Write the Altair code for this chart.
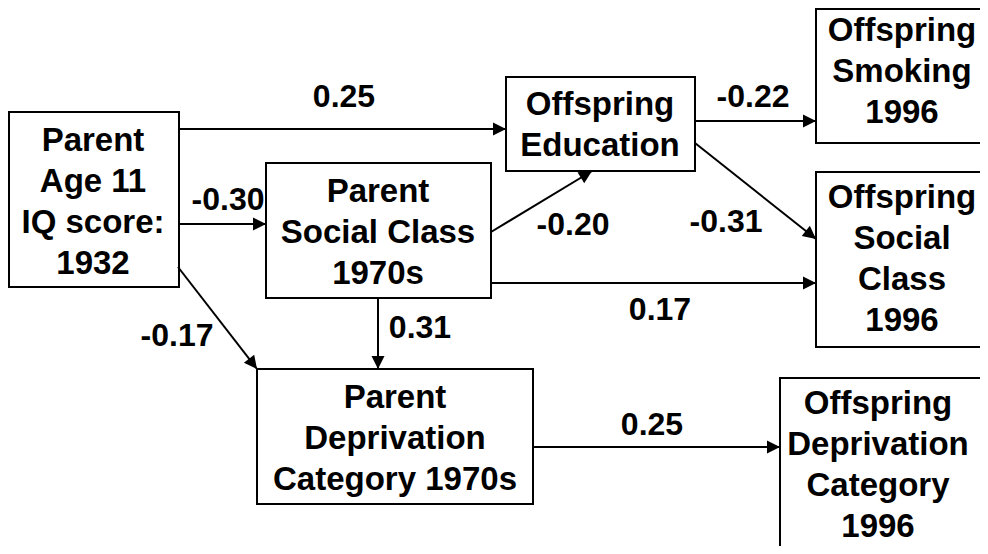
import math
import altair as alt
import pandas as pd

# ---- Boxes (diagram coordinates, in pixels of the 988x554 picture) ----
box_labels = [
    "Parent\nAge 11\nIQ score:\n1932",
    "Parent\nSocial Class\n1970s",
    "Offspring\nEducation",
    "Offspring\nSmoking\n1996",
    "Offspring\nSocial\nClass\n1996",
    "Parent\nDeprivation\nCategory 1970s",
    "Offspring\nDeprivation\nCategory\n1996",
]
box_left = [9, 266, 506, 816, 816, 257, 780]
box_right = [179, 491, 695, 995, 995, 533, 995]
box_top = [112, 163, 77, 9, 172, 369, 378]
box_bottom = [287, 298, 171, 143, 347, 504, 550]
text_x = [93, 378, 600, 902, 902, 395, 878]
text_y = [202, 233, 125, 72, 259, 439, 465]

# ---- Paths (arrows) with coefficients ----
edge_labels = ["0.25", "-0.30", "-0.17", "-0.20", "-0.22", "-0.31", "0.17", "0.31", "0.25"]
edge_x1 = [179, 179, 178, 491, 695, 695, 491, 378, 533]
edge_y1 = [129, 224, 267, 232, 121, 143, 283, 298, 447]
edge_x2 = [506, 266, 257, 592, 816, 816, 816, 378, 780]
edge_y2 = [129, 224, 369, 171, 121, 239, 283, 369, 447]
label_x = [344, 228, 177, 573, 753, 726, 660, 420, 652]
label_y = [97, 200, 336, 225, 97, 222, 310, 328, 425]

LINE_H = 41

boxes_df = pd.DataFrame({
    "label": box_labels, "x1": box_left, "x2": box_right,
    "y1": box_top, "y2": box_bottom, "tx": text_x, "ty": text_y,
})
# Vega draws the first line at y; shift so the whole block is centred
boxes_df["ty_first"] = [
    cy - (lab.count("\n")) * LINE_H / 2 for cy, lab in zip(text_y, box_labels)
]

edges_df = pd.DataFrame({
    "coef": edge_labels, "x1": edge_x1, "y1": edge_y1,
    "x2": edge_x2, "y2": edge_y2, "lx": label_x, "ly": label_y,
})
edges_df["angle"] = [
    math.degrees(math.atan2(b - a, d - c)) % 360
    for a, b, c, d in zip(edges_df.y1, edges_df.y2, edges_df.x1, edges_df.x2)
]

W, H = 972, 538
xs = alt.Scale(domain=[8, 8 + W])
ys = alt.Scale(domain=[8, 8 + H], reverse=True)
FONT = "Liberation Sans"

rects = alt.Chart(boxes_df).mark_rect(
    fill="white", stroke="black", strokeWidth=2
).encode(
    x=alt.X("x1:Q", scale=xs, axis=None), x2="x2:Q",
    y=alt.Y("y1:Q", scale=ys, axis=None), y2="y2:Q",
)

box_text = alt.Chart(boxes_df).mark_text(
    font=FONT, fontWeight="bold", fontSize=33, lineBreak="\n",
    lineHeight=LINE_H, align="center", baseline="middle", color="black",
).encode(
    x=alt.X("tx:Q", scale=xs, axis=None),
    y=alt.Y("ty_first:Q", scale=ys, axis=None),
    text="label:N",
)

rules = alt.Chart(edges_df).mark_rule(color="black", strokeWidth=2).encode(
    x=alt.X("x1:Q", scale=xs, axis=None), x2="x2:Q",
    y=alt.Y("y1:Q", scale=ys, axis=None), y2="y2:Q",
)

heads = alt.Chart(edges_df).mark_point(
    shape="M0,0L-1,-0.5L-1,0.5Z", filled=True, size=676,
    color="black", opacity=1, strokeWidth=0,
).encode(
    x=alt.X("x2:Q", scale=xs, axis=None),
    y=alt.Y("y2:Q", scale=ys, axis=None),
    angle=alt.Angle("angle:Q", scale=None),
)

coef_text = alt.Chart(edges_df).mark_text(
    font=FONT, fontWeight="bold", fontSize=32,
    align="center", baseline="middle", color="black",
).encode(
    x=alt.X("lx:Q", scale=xs, axis=None),
    y=alt.Y("ly:Q", scale=ys, axis=None),
    text="coef:N",
)

chart = alt.layer(rects, rules, heads, box_text, coef_text).properties(
    width=W, height=H,
    autosize=alt.AutoSizeParams(type="none"),
    padding=0, background="white",
).configure_view(stroke=None)

chart.save("out.html", embed_options={"renderer": "svg", "actions": False})
